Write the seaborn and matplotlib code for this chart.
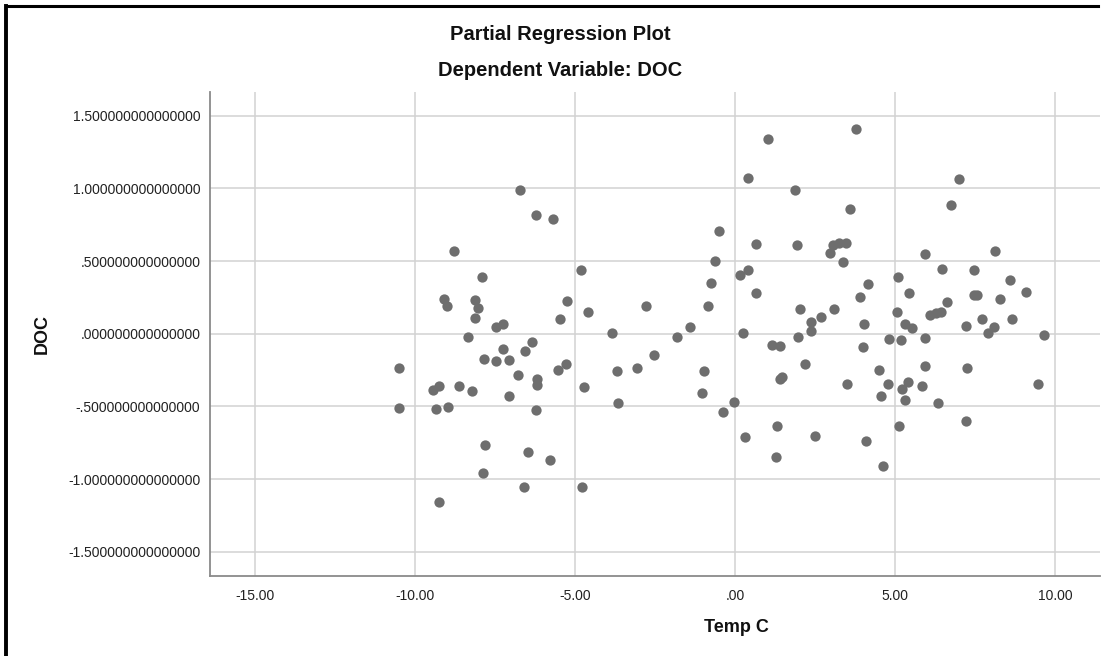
import matplotlib
matplotlib.use("Agg")
import matplotlib.pyplot as plt
import seaborn as sns
import pandas as pd
from matplotlib.lines import Line2D

# ---- data ----
temp_c = [
    -6.72, -6.21, -5.69, -8.79, -4.80, -7.91, -9.08, -9.00, -8.12, -8.03,
    -5.25, -8.12, -5.46, -4.58, -7.46, -7.24, -8.36, -7.24, -6.55, -6.35,
    -7.86, -7.46, -7.05, -10.50, -6.79, -6.19, -6.18, -5.53, -5.29, -4.71,
    -9.43, -9.25, -8.62, -8.23, -7.06, -10.50, -9.34, -8.96, -6.22, -7.81,
    -6.47, -5.77, -7.88, -6.61, -4.78, -9.26,
    3.78, 1.04, 0.41, 7.00, 1.875, 6.74, 3.59, -0.50, 0.65, 1.95,
    3.07, 3.26, 3.47, 2.96, 3.37, -0.635, 5.95, 8.125, 6.47, 7.46,
    0.146, 0.396, -0.75, 5.10, 8.61, 0.65, 5.44, 9.10, 4.15, 3.90,
    7.46, 7.55, 8.27, 6.64, -2.78, -0.84, 2.04, 3.08, 5.05, 6.11,
    6.28, 6.43, 2.69, 2.375, 2.37, 5.31, 5.53, 7.71, 8.67, 7.23,
    8.09, 7.91, 4.03, -1.42, -3.83, 0.24, -1.82, 1.96, 4.83, 5.19,
    5.94, 9.67, 1.15, 1.41, 3.99, -2.52,
    -3.68, -3.07, -0.98, -1.03, -3.66, -0.04, -0.36, 2.19, 1.41, 1.48,
    3.49, 4.50, 4.77, 4.58, 5.40, 5.23, 5.33, 5.93, 5.84, 6.36,
    7.25, 9.48, 7.21, 5.125, 1.31, 0.31, 2.50, 4.11, 1.28, 4.64,
]
doc = [
    0.989, 0.817, 0.787, 0.567, 0.439, 0.389, 0.239, 0.194, 0.230, 0.178,
    0.228, 0.107, 0.102, 0.150, 0.043, 0.070, -0.026, -0.107, -0.118, -0.060,
    -0.173, -0.189, -0.178, -0.235, -0.283, -0.315, -0.352, -0.251, -0.205, -0.370,
    -0.389, -0.363, -0.359, -0.391, -0.430, -0.508, -0.515, -0.501, -0.528, -0.765,
    -0.817, -0.870, -0.957, -1.056, -1.056, -1.161,
    1.406, 1.342, 1.072, 1.067, 0.989, 0.888, 0.856, 0.705, 0.620, 0.609,
    0.613, 0.624, 0.627, 0.554, 0.492, 0.497, 0.551, 0.572, 0.448, 0.441,
    0.402, 0.435, 0.352, 0.391, 0.368, 0.283, 0.283, 0.290, 0.340, 0.251,
    0.263, 0.265, 0.240, 0.219, 0.191, 0.189, 0.168, 0.168, 0.150, 0.132,
    0.141, 0.148, 0.116, 0.081, 0.019, 0.070, 0.040, 0.098, 0.100, 0.052,
    0.047, 0.003, 0.065, 0.045, 0.008, 0.008, -0.024, -0.026, -0.036, -0.045,
    -0.029, -0.008, -0.079, -0.088, -0.091, -0.148,
    -0.260, -0.233, -0.256, -0.409, -0.480, -0.473, -0.542, -0.210, -0.311, -0.301,
    -0.349, -0.249, -0.343, -0.430, -0.329, -0.377, -0.455, -0.224, -0.359, -0.476,
    -0.233, -0.343, -0.602, -0.636, -0.636, -0.710, -0.703, -0.739, -0.847, -0.907,
]
x_ticks = [-15, -10, -5, 0, 5, 10]
x_tick_labels = ["-15.00", "-10.00", "-5.00", ".00", "5.00", "10.00"]
y_ticks = [-1.5, -1.0, -0.5, 0.0, 0.5, 1.0, 1.5]
y_tick_labels = ["-1.500000000000000", "-1.000000000000000", "-.500000000000000",
                 ".000000000000000", ".500000000000000", "1.000000000000000",
                 "1.500000000000000"]
title = "Partial Regression Plot"
subtitle = "Dependent Variable: DOC"
x_label = "Temp C"
y_label = "DOC"

df = pd.DataFrame({"Temp C": temp_c, "DOC": doc})

sns.set_theme(style="whitegrid")
plt.rcParams["font.family"] = ["Liberation Sans", "DejaVu Sans"]

W, H = 1104, 656
fig = plt.figure(figsize=(W / 100, H / 100), dpi=100)
fig.patch.set_facecolor("white")
ax = fig.add_axes([210 / W, 1 - 576 / H, (1100 - 210) / W, (576 - 92) / H])

sns.scatterplot(data=df, x="Temp C", y="DOC", ax=ax, s=55, color="#6e6e6e",
                edgecolor="#6e6e6e", linewidth=0, zorder=3)

ax.set_xlim(-16.41, 11.41)
ax.set_ylim(-1.667, 1.663)
ax.set_xticks(x_ticks)
ax.set_xticklabels(x_tick_labels)
ax.set_yticks(y_ticks)
ax.set_yticklabels(y_tick_labels)
ax.tick_params(axis="both", length=0, labelsize=10, labelcolor="#222222")
ax.tick_params(axis="x", pad=9)
ax.tick_params(axis="y", pad=7)

ax.grid(True, color="#d2d2d2", linewidth=1.1)
ax.set_axisbelow(True)
for side in ["top", "right"]:
    ax.spines[side].set_visible(False)
for side in ["left", "bottom"]:
    ax.spines[side].set_visible(True)
    ax.spines[side].set_color("#8a8a8a")
    ax.spines[side].set_linewidth(1.3)
ax.set_facecolor("white")

ax.set_xlabel(x_label, fontsize=13, fontweight="bold", color="#111111")
ax.set_ylabel(y_label, fontsize=13, fontweight="bold", color="#111111")
ax.xaxis.set_label_coords((736 - 210) / (1100 - 210), -(627 - 576) / (576 - 92))
ax.yaxis.set_label_coords(-(210 - 42) / (1100 - 210), 0.5)
ax.xaxis.label.set_va("center")
ax.yaxis.label.set_va("center")

fig.text(560 / W, 1 - 35 / H, title, ha="center", va="center",
         fontsize=14.5, fontweight="bold", color="#111111")
fig.text(560 / W, 1 - 70 / H, subtitle, ha="center", va="center",
         fontsize=14.5, fontweight="bold", color="#111111")

# outer frame (left and top edges)
fig.add_artist(Line2D([6 / W, 6 / W], [0, 1 - 6 / H], transform=fig.transFigure,
                      color="black", linewidth=2.8, solid_capstyle="projecting"))
fig.add_artist(Line2D([6 / W, 1098 / W], [1 - 6 / H, 1 - 6 / H], transform=fig.transFigure,
                      color="black", linewidth=2.2, solid_capstyle="projecting"))

fig.savefig("out.png", dpi=100, facecolor="white")
